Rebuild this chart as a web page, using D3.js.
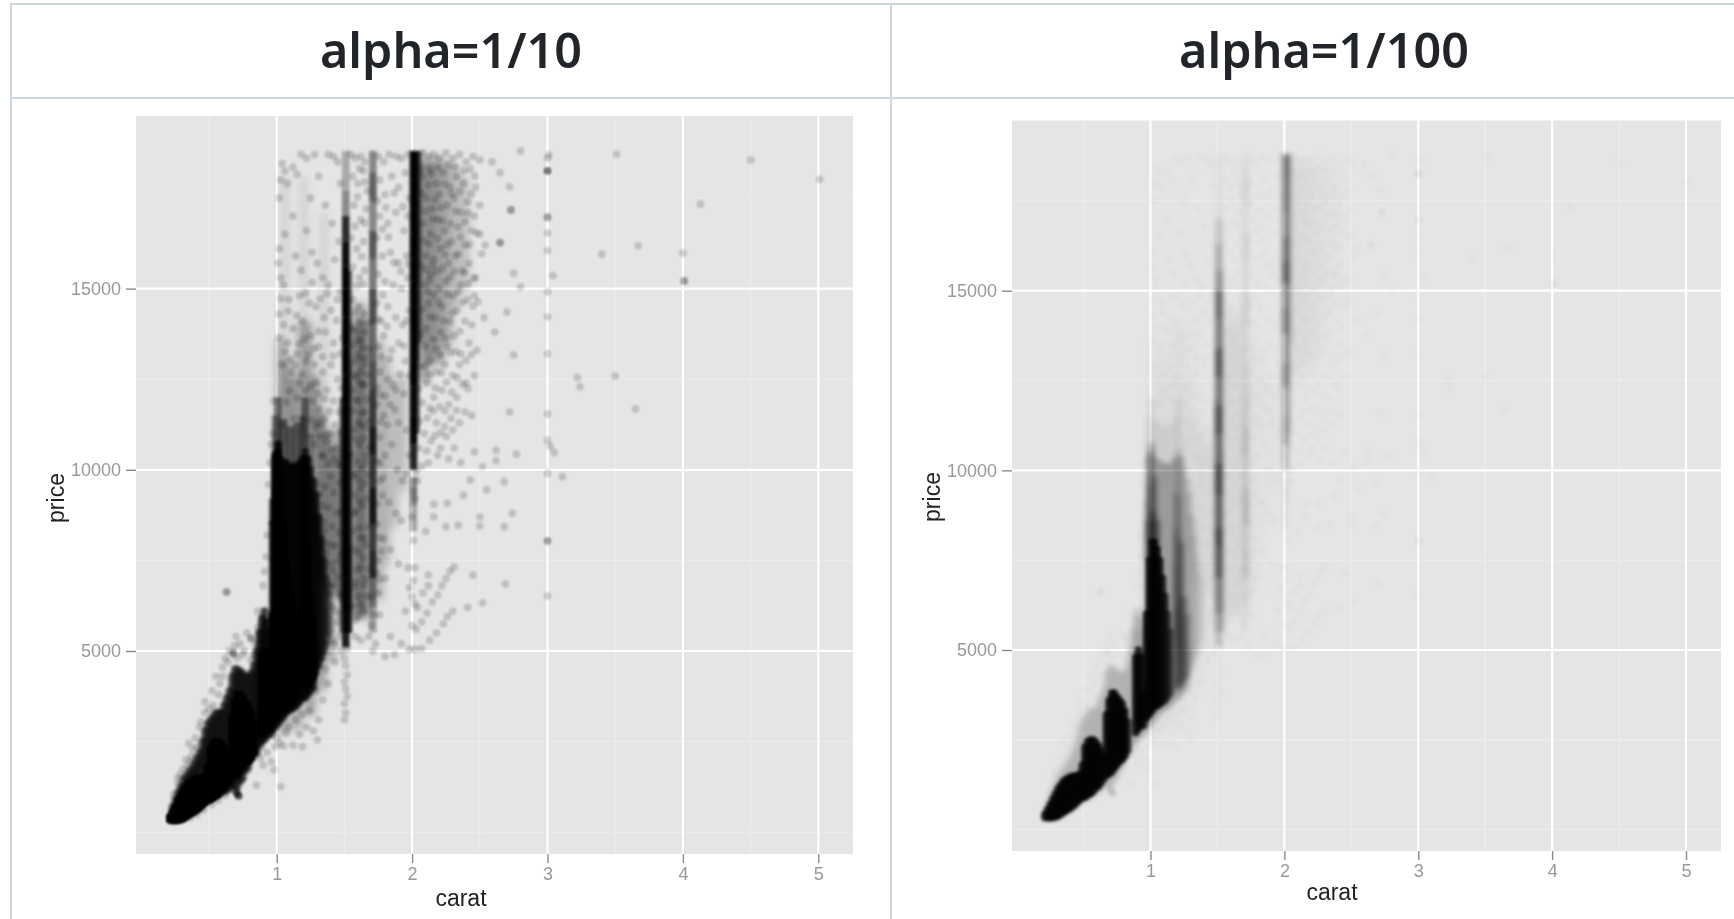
<!DOCTYPE html>
<html><head><meta charset="utf-8">
<script src="https://cdn.jsdelivr.net/npm/d3@7"></script>
<style>
html,body{margin:0;padding:0;background:#fff;overflow:hidden}
svg{display:block}
</style></head><body>
<svg id="c" width="1734" height="919"></svg>
<script>
const titles = ["alpha=1/10", "alpha=1/100"];
const alphas = [1/10, 1/100];
const xTicks = [1,2,3,4,5];
const yTicks = [5000,10000,15000];
const xMinor = [0.5,1.5,2.5,3.5,4.5];
const yMinor = [0,2500,7500,12500,17500];
const xLabel = "carat", yLabel = "price";

// dense price ranges: [carat, low price, high price, diamonds per spot]
const denseCore = [
[.21,340,430,150],[.23,330,560,150],[.25,330,700,150],[.27,340,850,150],[.29,350,1000,150],[.31,380,1150,150],
[.33,430,1250,150],[.35,480,1350,150],[.37,530,1400,150],[.39,570,1450,150],[.41,620,1480,150],[.43,680,1500,150],
[.45,750,1500,150],[.47,820,1550,150],[.49,880,1800,150],[.51,900,2300,150],[.53,950,2450,150],[.55,1000,2500,150],
[.57,1050,2500,150],[.59,1150,2450,150],[.61,1200,2350,150],[.63,1300,2200,150],[.65,1400,2000,120],
[.67,1500,3200,150],[.69,1550,3600,150],[.71,1600,3800,150],[.73,1700,3800,150],[.75,1800,3700,150],[.77,1900,3600,150],
[.79,1950,3500,150],[.81,2050,3300,150],[.83,2200,3000,110],
[.89,2700,4800,150],[.91,2800,5000,150],[.93,2900,4800,150],[.95,2900,3800,120],
[.97,3100,6000,150],[.99,3200,7500,150],[1.01,3300,8000,150],[1.03,3400,8000,150],[1.05,3450,7800,150],[1.07,3500,7500,130],
[1.09,3550,7000,110],[1.11,3600,6500,90],[1.13,3700,6000,70],[1.15,3800,5500,50]
];
const denseOuter = [
[.23,330,700,9],[.25,330,900,9],[.27,340,1100,9],[.29,350,1250,9],[.31,380,1450,9],[.33,430,1550,9],[.35,480,1650,9],
[.37,530,1750,9],[.39,570,1900,9],[.41,620,2050,9],[.43,680,2200,9],[.45,750,2500,9],[.47,820,2800,9],[.49,880,3000,9],
[.51,900,3100,9],[.53,950,3200,9],[.55,1000,3300,9],[.57,1050,3300,9],[.59,1100,3300,9],[.61,1120,3500,9],[.63,1150,3700,9],
[.65,1200,3900,9],[.67,1300,4300,9],[.69,1250,4500,9],[.71,1250,4500,9],[.73,1400,4450,9],[.75,1500,4400,9],[.77,1700,4300,9],
[.79,1800,4300,9],[.81,2000,4400,9],[.83,2100,4600,9],[.85,2200,5000,10],[.87,2400,5500,12],[.89,2500,5900,12],[.91,2550,6100,12],
[.93,2650,5800,12],[.95,2700,5500,12],[.97,2800,8500,14],[.99,2900,10300,14],[1.01,3000,10500,14],[1.03,3100,10300,14],[1.05,3200,10200,14],
[1.07,3300,10200,14],[1.09,3350,10100,14],[1.11,3400,10100,14],[1.13,3450,10100,14],[1.15,3500,10100,14],[1.17,3600,10200,14],
[1.19,3700,10300,14],[1.21,3700,10500,14],[1.23,3800,10300,14],[1.25,3900,10000,12],[1.27,4000,9700,12],[1.29,4400,9300,12],
[1.31,4600,8700,12],[1.33,4800,8100,10],[1.35,5000,7500,8],[1.37,5200,7000,6],[1.39,5500,6800,4]
];
const denseMid = [
[.97,8500,9200,8],[.99,7500,8600,55],[.99,8600,9600,32],[.99,9600,10500,20],[1.01,8000,8900,55],[1.01,8900,9900,32],[1.01,9900,10800,20],
[1.03,8000,8800,40],[1.03,8800,9800,22],[1.05,7800,8600,30],
[.99,10300,11500,5],[1.01,10500,12000,6],[1.05,10200,11400,6],[1.1,10100,11200,6],[1.15,10100,11300,6],[1.19,10300,11500,5],[1.21,10500,12000,6],[1.25,10000,11000,4],
[1.19,3900,5200,34],[1.19,5200,6200,42],[1.19,6200,7400,30],[1.19,7400,8400,24],[1.19,8400,9400,14],
[1.21,3900,4800,30],[1.21,4800,5800,38],[1.21,5800,7000,34],[1.21,7000,8200,30],[1.21,8200,9300,20],[1.21,9300,10400,12],
[1.23,4000,5000,30],[1.23,5000,6400,34],[1.23,6400,8000,26],[1.25,4100,5200,30],[1.25,5200,6500,26],[1.27,4200,6000,22],
[1.49,5500,8500,8],[1.49,8500,12000,8],[1.53,5500,8000,16],[1.53,8000,10500,12],[1.53,10500,13000,10],[1.53,13000,15500,7],
[1.51,5100,6000,20],[1.51,6000,7000,40],[1.51,7000,7900,75],[1.51,7900,8400,105],[1.51,8400,9300,70],[1.51,9300,10200,100],[1.51,10200,11000,62],
[1.51,11000,11800,95],[1.51,11800,12600,58],[1.51,12600,13400,90],[1.51,13400,14200,55],[1.51,14200,15000,70],[1.51,15000,15600,38],
[1.51,15600,16300,28],[1.51,16300,17000,16],[1.51,17000,17700,5],[1.51,17700,18800,3],
[1.71,5500,6200,3],[1.71,6200,7000,6],[1.71,7000,7800,14],[1.71,7800,8500,11],[1.71,8500,9500,20],[1.71,9500,10400,12],[1.71,10400,11200,18],
[1.71,11200,12200,11],[1.71,12200,13000,8],[1.71,13000,14000,6],[1.71,14000,15000,10],[1.71,15000,15800,6],[1.71,15800,16600,9],
[1.71,16600,17400,5],[1.71,17400,18200,8],[1.71,18200,18800,5],
[2.01,10000,10700,18],[2.01,10700,11500,34],[2.01,11500,12300,26],[2.01,12300,13000,48],[2.01,13000,13800,32],[2.01,13800,14500,55],
[2.01,14500,15200,42],[2.01,15200,15800,80],[2.01,15800,16500,60],[2.01,16500,17200,42],[2.01,17200,18000,52],[2.01,18000,18800,55],
[2.01,9000,9800,5],[2.01,8300,9000,3],[2.03,11000,13000,8],[2.03,13000,15000,12],[2.03,15000,18800,14],[2.05,13500,18800,5]
];
const denseHaze = [
[1.03,10500,13500,4],[1.08,10000,13000,4],[1.13,9600,12500,4],[1.18,10000,14000,3],[1.23,11000,14000,4],[1.28,7800,12500,5],[1.33,7000,11500,6],
[1.38,6800,11000,6],[1.43,6500,10500,5],[1.47,6500,11000,5],[1.57,6000,14000,6],[1.62,6000,14500,6],[1.66,6000,14000,6],[1.76,6500,13500,3],
[1.81,7500,13000,2],[1.87,8500,12500,2],[1.93,9500,12500,2],[2.09,12500,18500,6],[2.15,13000,18500,5],[2.21,13000,18500,4],[2.27,13500,18400,3],
[2.33,14500,18300,2],[2.39,15000,18000,2],
[1.05,2800,3400,5],[1.15,2900,3600,4],[1.25,3300,4100,5],[1.33,4000,5000,5],[1.4,4800,6200,4],[1.06,13500,18000,1],[1.2,14000,18000,1],[1.35,11500,17000,1]
];

// individually visible diamonds: [carat, price]
const pointsOutliers = [
[2.80,18800],[3.01,18690],[3.0,18600],[3.51,18710],[4.50,18550],[5.01,18020],[4.13,17330],[3.67,16180],[3.40,15950],[4.0,15980],
[3.0,16530],[3.0,16050],[3.04,15360],[2.8,15050],[3.0,14910],[3.0,14220],[3.0,13200],[3.22,12550],[3.24,12290],[3.5,12590],
[3.65,11680],[3.0,11540],[3.0,10820],[3.05,10470],[3.02,10650],[3.0,9900],[3.11,9810],[3.0,6520],
[2.72,17810],[2.65,18200],[2.59,18500],[2.75,15420],[2.70,14350],[2.61,13800],[2.75,13170],[2.72,11600],[2.77,10430],[2.62,10540],[2.62,10250],
[2.52,10090],[2.68,9670],[2.43,9720],[2.74,8800],[2.68,8430],[2.5,8700],[2.5,8450],[2.34,8470],[2.25,8430],[2.16,8700],[2.16,9050],[2.26,9080],
[2.46,10500],[2.52,6330],[2.69,6850],[2.45,7100],[2.41,6200],[2.55,9450],[2.38,9300]
];
const pointsHeavy = [[3.0,18250],[.71,1050],[.72,1000],[.70,1120]];
const pointsMedium = [[4.01,15210],[3.0,16970],[2.73,17170],[2.65,16270],[3.0,8040],[.63,6630],[.81,5350],[.68,4950]];
const pointsTop = [
[1.04,18450],[1.06,18250],[1.03,18000],[1.08,17900],[1.02,17500],[1.12,18350],[1.18,18700],[1.15,18150],[1.22,18600],[1.28,18700],[1.25,17500],[1.31,18100],
[1.38,18700],[1.42,18650],[1.45,18500],[1.47,17900],[1.36,17300],[1.41,16800],[1.22,16600],[1.12,17000],[1.06,16500],[1.02,16100],[1.01,15700],
[1.03,15300],[1.05,15100],[1.14,15900],[1.18,15500],[1.26,16000],[1.3,15700],[1.34,15300],[1.38,15100],[1.43,15800],[1.46,16300],[1.09,14700],
[1.17,14800],[1.24,14600],[1.29,14500],[1.35,14200],[1.4,14400],[1.45,14700],[1.02,14300],[1.05,14000],[1.12,13900],[1.19,14100],[1.25,13700],
[1.31,13400],[1.36,13800],[1.42,13500],[1.47,13200],[1.08,13500],[1.15,13200],[1.22,13000],[1.28,12900],[1.34,12700],[1.4,12900],[1.45,12500],
[1.04,12900],[1.11,12700],[1.17,12400],[1.25,12300],[1.31,12100],[1.37,12200],[1.42,11900],[1.46,11600],[1.35,11400],[1.4,11000],[1.44,10600],
[1.3,11300],[1.28,10700],[1.33,10400],[.98,11900],[.97,11000],[.95,10200],[.94,9600],[.96,10700],[.93,8200],[.92,7600],[.91,7200],[.9,6800],[.86,6100],
[.78,5500],[.73,5200],[.7,5400],[.68,4900],[.62,4800],[.6,4300],[.57,3800],[.53,3500],[.5,3400],[.47,3300],[.43,2900],[.41,2350],[.38,2300],[.37,2100],
[.36,1950],[.34,1800],[.31,1750],[.29,1600],[.27,1350],[.52,3900],[.65,5000],[.71,4800],[.83,4900],[.84,5200],[.81,4750],[.76,5000],[.58,4100]
];
const pointsMid = [
[1.55,18700],[1.58,18600],[1.62,18650],[1.65,18500],[1.75,18650],[1.79,18500],[1.83,18700],[1.88,18650],[1.92,18600],[1.97,18700],[1.56,18100],[1.6,17900],
[1.64,18250],[1.67,17700],[1.76,18000],[1.8,17600],[1.85,18100],[1.9,17800],[1.95,18200],[1.98,17500],[1.57,17300],[1.62,16900],[1.66,17200],[1.76,17000],
[1.82,16800],[1.88,17100],[1.94,16600],[1.97,17000],[1.55,16400],[1.59,16100],[1.64,16300],[1.74,16400],[1.78,15900],[1.84,16000],[1.9,15700],[1.96,15900],
[1.56,15600],[1.61,15300],[1.65,15500],[1.75,15400],[1.8,15200],[1.86,15100],[1.92,15000],[1.97,15300],[1.56,14700],[1.6,14500],[1.65,14300],[1.74,14600],
[1.77,14100],[1.82,14500],[1.88,14200],[1.93,14000],[1.98,14400],[1.55,13900],[1.6,13600],[1.65,13800],[1.75,13400],[1.79,13700],[1.85,13300],[1.9,13500],
[1.95,13000],[1.57,13000],[1.62,12700],[1.66,13100],[1.76,12700],[1.82,12500],[1.88,12200],[1.94,12100],[1.98,12600],[1.56,12200],[1.6,11900],[1.65,11600],
[1.74,11800],[1.79,11500],[1.84,11800],[1.9,11300],[1.96,11100],[1.98,10400],[1.57,11100],[1.61,10700],[1.66,10400],[1.76,10900],[1.8,10400],[1.85,10700],
[1.89,10000],[1.93,9700],[1.96,9900],[1.58,9900],[1.62,9500],[1.66,9200],[1.76,9700],[1.78,9300],[1.83,9100],[1.88,8800],[1.92,8600],[1.57,8800],[1.61,8400],
[1.65,8100],[1.74,8500],[1.79,8100],[1.84,7800],[1.57,7800],[1.62,7300],[1.66,7000],[1.75,7500],[1.8,7000],[1.6,6500],[1.58,6900],[1.64,6100],[1.75,6600],
[1.7,5700],[1.68,5400],[1.62,5300],[1.58,5400],[1.76,6000],[1.73,5200],[1.8,4850],[1.71,5000],[1.72,6000],[1.7,6500],
[1.5,3100],[1.51,3300],[1.5,3550],[1.52,3750],[1.51,3950],[1.5,4150],[1.52,4350],[1.51,4600],[1.5,4800],[1.52,5050],[1.48,5000],[1.47,5400],[1.45,5800],[1.43,5200]
];
const pointsTwo = [
[2.08,18750],[2.12,18650],[2.16,18700],[2.2,18600],[2.25,18750],[2.3,18600],[2.35,18700],[2.4,18500],[2.45,18650],[2.5,18550],[2.08,18100],[2.13,18300],[2.18,17900],
[2.23,18200],[2.28,17800],[2.33,18100],[2.38,17900],[2.43,18300],[2.47,17800],[2.1,17500],[2.15,17200],[2.2,17600],[2.26,17300],[2.31,17500],[2.36,17100],[2.41,17400],
[2.46,17000],[2.5,17300],[2.08,16800],[2.14,16500],[2.19,16900],[2.24,16600],[2.29,16300],[2.34,16700],[2.39,16200],[2.44,16600],[2.5,16500],[2.54,16200],[2.1,15900],
[2.16,15800],[2.21,16100],[2.27,15700],[2.32,15900],[2.37,15500],[2.42,15700],[2.47,15300],[2.09,15100],[2.14,15400],[2.2,15000],[2.25,15200],[2.3,14800],[2.36,15100],
[2.41,14700],[2.46,14800],[2.12,14600],[2.17,14200],[2.22,14500],[2.28,14100],[2.33,14400],[2.39,14100],[2.44,14000],[2.53,14200],[2.1,13900],[2.16,13600],[2.21,13800],
[2.26,13400],[2.31,13700],[2.36,13200],[2.42,13500],[2.48,13300],[2.13,13000],[2.18,12700],[2.24,12900],[2.3,12600],[2.35,12900],[2.4,12400],[2.46,12600],[2.11,12400],
[2.16,12000],[2.22,12200],[2.27,11800],[2.33,12000],[2.39,11600],[2.44,11500],[2.13,11700],[2.18,11300],[2.24,11200],[2.3,11100],[2.35,11300],[2.09,11000],[2.14,10800],
[2.21,10600],[2.27,10300],[2.12,10200],[2.19,10400],[2.05,10600],[2.07,10100],[2.04,9700],[2.03,9950],[2.01,9400],[2.02,9200],[2.0,8700],[2.01,8050],[2.02,7300],
[2.01,6950],[2.0,6500],[2.02,6300],[2.12,7100],[2.1,8300],[2.36,10200],[2.31,10600],
[1.98,5050],[2.02,5050],[2.07,5070],[2.13,5300],[2.18,5500],[2.23,5750],[2.26,5950],[2.3,6100],[2.03,5600],[2.07,5800],[2.11,6050],[2.15,6350],[2.19,6550],[2.22,6800],
[2.25,7000],[2.28,7200],[2.31,7320],[2.0,5700],[2.04,6200],[2.08,6600],[2.12,6800],[1.92,5200],[1.87,4900],[1.84,5400],[1.95,6100],[1.98,6750],[1.97,7300],[1.9,7400]
];
const pointsFringe = [
[.99,2360],[1.19,2360],[1.3,2550],[1.03,1260],[.85,1300],[.98,1720],[.96,1950],[.93,2200],[.9,1850],[.88,2050],[1.02,2450],[1.05,2380],[1.12,2400],[1.17,2700],
[1.22,2900],[1.27,2800],[1.31,3100],[1.24,3350],[1.09,2900],[1.14,3100],[1.19,3250],[1.34,3650],[1.38,4100],[1.29,3900],[1.43,4700],[1.41,5300],[1.36,4500],
[1.07,2750],[1.0,2600],[.97,2700],[.89,2350],[.86,2200],[.79,1720],[.75,1450],[.68,1180],[.62,1020],[.57,880],[.52,760],[.46,610],[.41,490],[.36,400],
[.24,1050],[.27,1500],[.33,2000],[.35,2450],[.4,2600],[.44,3050],[.47,3600],[.55,4300],[.6,4550],[.64,4700],[.69,5150],[.75,4900],[.86,5650]
];
const pointsSpeckle = [
[1.043,11230],[1.071,11870],[1.094,12180],[1.128,11420],[1.153,11980],[1.187,12630],[1.211,12190],[1.247,11370],[1.268,11890],[1.292,12410],[1.317,10920],[1.344,10380],
[1.372,10790],[1.396,9820],[1.421,9370],[1.443,8810],[1.468,9640],[1.357,9540],[1.383,8960],[1.409,8430],[1.437,7920],[1.462,8270],[1.349,8560],[1.376,7980],[1.414,7230],
[1.451,7040],[1.473,7660],[1.063,13260],[1.102,13040],[1.137,12890],[1.166,13480],[1.203,13610],[1.234,13180],[1.273,13340],[1.308,13820],[1.338,13120],[1.018,13640],
[1.031,14720],[1.084,14380],[1.147,14260],[1.211,14870],[1.261,15170],[1.322,14720],[1.372,14860],[1.417,13140],[1.443,14120],[1.468,14910],[1.483,13640],[1.477,12260],
[1.551,10420],[1.572,9310],[1.593,10230],[1.617,11240],[1.642,10860],[1.668,11940],[1.632,12340],[1.587,12560],[1.596,13180],[1.638,13360],[1.668,14060],[1.614,14060],
[1.574,14340],[1.592,15080],[1.638,15120],[1.752,14160],[1.783,14830],[1.814,13960],[1.836,13060],[1.772,13120],[1.803,12040],[1.856,12340],[1.768,11330],[1.818,11240],
[1.873,11660],[1.912,12640],[1.938,13420],[1.961,14120],[1.972,15680],[1.917,15480],[1.866,15720],[1.826,16420],[1.782,16640],[1.744,17420],[1.807,17240],[1.868,17640],
[1.932,17260],[1.578,16720],[1.628,15890],[1.648,16810],[1.598,17530],[1.652,17950],[1.612,18310],
[2.063,18310],[2.072,17640],[2.094,17140],[2.118,17860],[2.143,18180],[2.168,17460],[2.192,18340],[2.212,17240],[2.242,17890],[2.268,18410],[2.292,17620],[2.318,18360],
[2.352,17680],[2.384,18260],[2.412,17080],[2.437,17610],[2.463,18110],[2.478,16540],[2.514,15960],[2.487,14640],[2.452,15280],[2.423,16220],[2.392,16840],[2.357,16420],
[2.322,17140],[2.283,16790],[2.258,16210],[2.224,16870],[2.187,16380],[2.154,16920],[2.121,16240],[2.084,16330],[2.068,15640],[2.098,15520],[2.128,15240],[2.152,15640],
[2.182,15480],[2.223,15560],[2.246,15940],[2.282,15320],[2.312,15480],[2.343,15960],[2.387,15440],[2.414,15140],[2.448,14520],[2.378,14620],[2.338,14920],[2.298,14320],
[2.262,14840],[2.233,14120],[2.197,14620],[2.158,14820],[2.116,14920],[2.078,14420],[2.064,13740],[2.096,13420],[2.134,14220],[2.176,13340],[2.212,13180],[2.248,13640],
[2.284,13240],[2.322,13260],[2.354,13820],[2.398,13020],[2.438,13180],[2.413,12240],[2.372,12360],[2.333,12540],[2.292,12140],[2.254,12420],[2.216,12680],[2.172,12260],
[2.132,12620],[2.092,12860],[2.073,11860],[2.112,11440],[2.156,11620],[2.203,11740],[2.243,11620],[2.288,11420],[2.326,11640],[2.168,10940],[2.212,11020],[2.254,10920],
[2.108,10520],[2.054,11340],[2.048,12240],[2.052,12860]
];
const pointsFill = [
[1.302,9620],[1.318,9340],[1.336,9010],[1.352,8320],[1.367,7720],[1.391,7410],[1.404,7900],[1.428,6820],[1.447,7480],[1.461,6590],[1.476,8840],[1.472,10120],[1.452,10180],
[1.427,10310],[1.404,10560],[1.383,10180],[1.364,10960],[1.331,11240],[1.312,11680],[1.286,11180],[1.354,11960],[1.392,11620],[1.431,11240],[1.463,11040],[1.386,6560],[1.412,6240],
[1.438,6120],[1.464,6020],[1.482,6480],[1.553,6240],[1.571,6760],[1.588,7240],[1.604,7720],[1.622,8130],[1.641,7560],[1.659,7920],[1.674,8420],[1.682,7260],[1.663,6520],[1.646,6830],
[1.624,6280],[1.601,5960],[1.582,5860],[1.563,8320],[1.584,8860],[1.606,9140],[1.631,9010],[1.652,9640],[1.672,9870],[1.684,10620],[1.654,10210],[1.628,10040],[1.602,9740],[1.561,9840],
[1.582,10840],[1.604,11320],[1.627,11560],[1.651,11180],[1.677,11340],[1.563,11640],[1.584,11940],[1.611,12410],[1.648,12360],[1.672,12620],[1.652,12910],[1.621,13080],[1.572,12610],
[1.562,13460],[1.583,13840],[1.621,13540],[1.683,13340],[1.742,10240],[1.764,10180],[1.786,9780],[1.742,9060],[1.756,8130],[1.774,7760],[1.738,7160],[1.758,6980],[1.764,12060],[1.741,12260]
];

const panels = [
  {left:136, right:853, top:116, bottom:854, x1:276.7, x5:818.3, y5k:651, y15k:288.6, tx:451, lx:461, ly:898, px:56, py:498, sb:[4,1.6,1,1.1]},
  {left:1012,right:1721,top:120.5,bottom:851, x1:1150.5,x5:1686,  y5k:650, y15k:290.7, tx:1324,lx:1332,ly:892, px:932,py:497, sb:[6,2.4,1.6,1.5]}
];

const svg = d3.select("#c");
const defs = svg.append("defs");
function blur(id,s){
  defs.append("filter").attr("id",id).attr("filterUnits","userSpaceOnUse").attr("x",0).attr("y",0).attr("width",1734).attr("height",919)
    .append("feGaussianBlur").attr("stdDeviation",s);
}
blur("txt",0.45);
panels.forEach((P,i)=>P.sb.forEach((s,k)=>blur(`s${i}${k}`,s)));

// table frame
const border = "#cdd8e3";
const frame = svg.append("g").attr("stroke",border).attr("stroke-width",2);
frame.append("line").attr("x1",10).attr("x2",1734).attr("y1",4).attr("y2",4);
frame.append("line").attr("x1",10).attr("x2",1734).attr("y1",98).attr("y2",98);
frame.append("line").attr("x1",11).attr("x2",11).attr("y1",3).attr("y2",919);
frame.append("line").attr("x1",891).attr("x2",891).attr("y1",3).attr("y2",919);

const allPoints = [].concat(pointsOutliers,pointsTop,pointsMid,pointsTwo,pointsFringe,pointsSpeckle,pointsFill);
const pointSpot = 1.7, mediumSpot = 4, heavySpot = 7;

panels.forEach((P,i)=>{
  const a = alphas[i];
  const op = n => 1-Math.pow(1-a,n);
  const x = d3.scaleLinear().domain([1,5]).range([P.x1,P.x5]);
  const y = d3.scaleLinear().domain([5000,15000]).range([P.y5k,P.y15k]);

  svg.append("text").text(titles[i]).attr("x",P.tx).attr("y",68).attr("text-anchor","middle")
    .attr("font-family","'Noto Sans',sans-serif").attr("font-weight",600).attr("font-size",48.5).attr("fill","#212529");

  const g = svg.append("g");
  g.append("rect").attr("x",P.left).attr("y",P.top).attr("width",P.right-P.left).attr("height",P.bottom-P.top).attr("fill","#e5e5e5");

  const grid = g.append("g");
  grid.selectAll(".mx").data(xMinor).join("line").attr("x1",x).attr("x2",x).attr("y1",P.top).attr("y2",P.bottom).attr("stroke","#ececec").attr("stroke-width",1.2);
  grid.selectAll(".my").data(yMinor).join("line").attr("y1",y).attr("y2",y).attr("x1",P.left).attr("x2",P.right).attr("stroke","#ececec").attr("stroke-width",1.2);
  grid.selectAll(".gx").data(xTicks).join("line").attr("x1",x).attr("x2",x).attr("y1",P.top).attr("y2",P.bottom).attr("stroke","#fff").attr("stroke-width",2.2);
  grid.selectAll(".gy").data(yTicks).join("line").attr("y1",y).attr("y2",y).attr("x1",P.left).attr("x2",P.right).attr("stroke","#fff").attr("stroke-width",2.2);

  const drawBands = (rows,k,cap)=> g.append("g").attr("filter",`url(#s${i}${k})`).selectAll("line").data(rows).join("line")
    .attr("x1",d=>x(d[0])).attr("x2",d=>x(d[0])).attr("y1",d=>y(d[1])).attr("y2",d=>y(d[2]))
    .attr("stroke","#000").attr("stroke-width",7.6).attr("stroke-linecap",cap).attr("stroke-opacity",d=>op(d[3]));
  drawBands(denseHaze,0,"round");
  drawBands(denseOuter,1,"round");
  drawBands(denseMid,1,"butt");
  drawBands(denseCore,2,"round");

  const pts = g.append("g").attr("filter",`url(#s${i}3)`);
  const dots = (rows,n)=> pts.append("g").selectAll("circle").data(rows).join("circle")
    .attr("cx",d=>x(d[0])).attr("cy",d=>y(d[1])).attr("r",3.9).attr("fill","#000").attr("fill-opacity",op(n));
  dots(allPoints,pointSpot); dots(pointsMedium,mediumSpot); dots(pointsHeavy,heavySpot);

  // axes
  const axes = svg.append("g").attr("filter","url(#txt)");
  const ax = axes.append("g").attr("transform",`translate(0,${P.bottom})`)
    .call(d3.axisBottom(x).tickValues(xTicks).tickFormat(d3.format("d")).tickSize(9).tickPadding(4));
  const ay = axes.append("g").attr("transform",`translate(${P.left},0)`)
    .call(d3.axisLeft(y).tickValues(yTicks).tickFormat(d3.format("d")).tickSize(10).tickPadding(5));
  [ax,ay].forEach(s=>{
    s.select(".domain").remove();
    s.selectAll("line").attr("stroke","#8a8a8a").attr("stroke-width",1.4);
    s.selectAll("text").attr("fill","#999").attr("font-size",18).attr("font-family","'Liberation Sans',Arial,sans-serif");
  });
  axes.append("text").text(xLabel).attr("x",P.lx).attr("y",P.ly).attr("dy",".35em").attr("text-anchor","middle")
    .attr("font-family","'Liberation Sans',Arial,sans-serif").attr("font-size",23).attr("fill","#222");
  axes.append("text").text(yLabel).attr("transform",`translate(${P.px},${P.py}) rotate(-90)`).attr("dy",".35em").attr("text-anchor","middle")
    .attr("font-family","'Liberation Sans',Arial,sans-serif").attr("font-size",23).attr("fill","#222");
});
</script>
</body></html>
